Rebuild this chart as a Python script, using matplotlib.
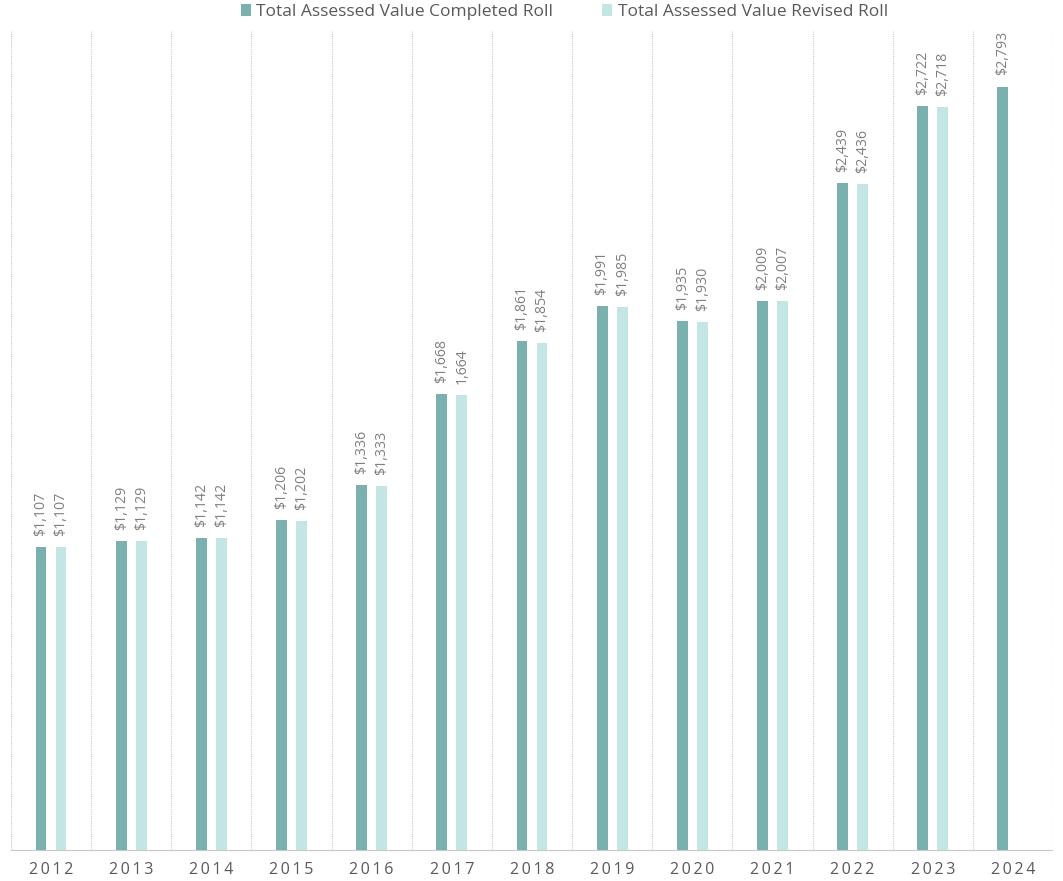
import numpy as np
import matplotlib.pyplot as plt

# values (millions)
years = ["2012", "2013", "2014", "2015", "2016", "2017", "2018",
         "2019", "2020", "2021", "2022", "2023", "2024"]
completed = [1107, 1129, 1142, 1206, 1336, 1668, 1861, 1991, 1935, 2009, 2439, 2722, 2793]
revised = [1107, 1129, 1142, 1202, 1333, 1664, 1854, 1985, 1930, 2007, 2436, 2718, None]
revised_labels = ["$1,107", "$1,129", "$1,142", "$1,202", "$1,333", "1,664", "$1,854",
                  "$1,985", "$1,930", "$2,007", "$2,436", "$2,718", None]

c_done = "#7AB1AE"
c_rev = "#C3E6E5"
grey = "#7F7F7F"

plt.rcParams["font.family"] = ["Open Sans", "DejaVu Sans"]

fig = plt.figure(figsize=(10.63, 8.81), dpi=100)
ax = fig.add_axes([0.0103, 0.0352, 0.9803, 0.9308])

x = np.arange(len(years))
off = 0.125
w = 0.135

ax.bar(x - off, completed, width=w, color=c_done, label="Total Assessed Value Completed Roll")
rx = [xi + off for xi, v in zip(x, revised) if v is not None]
rv = [v for v in revised if v is not None]
ax.bar(rx, rv, width=w, color=c_rev, label="Total Assessed Value Revised Roll")

for xi, v in zip(x, completed):
    ax.annotate(f"${v:,}", (xi - off, v), xytext=(0, 8), textcoords="offset points",
                rotation=90, ha="center", va="bottom", fontsize=10.2, color=grey)
for xi, v, lab in zip(x, revised, revised_labels):
    if v is None:
        continue
    ax.annotate(lab, (xi + off, v), xytext=(0, 8), textcoords="offset points",
                rotation=90, ha="center", va="bottom", fontsize=10.2, color=grey)

ax.set_xlim(-0.5, len(years) - 0.5)
ax.set_ylim(0, 3000)
ax.set_xticks(x)
# the reference spaces the year digits out a little
ax.set_xticklabels(["\u2009".join(y) for y in years], fontsize=11.5, color="#595959")
ax.tick_params(axis="x", length=0, pad=9)
ax.set_yticks([])

# category separators
for b in np.arange(-0.5, len(years), 1.0):
    ax.axvline(b, color="#C8C8C8", lw=0.8, ls=(0, (1, 1)), zorder=0)
for s in ["top", "right", "left"]:
    ax.spines[s].set_visible(False)
ax.spines["bottom"].set_color("#C8C8C8")
ax.spines["bottom"].set_linestyle((0, (1, 1)))

ax.legend(loc="center", bbox_to_anchor=(0.531, 1 + 18 / 820), ncol=2, frameon=False,
          fontsize=12.5, labelcolor="#595959", handlelength=0.6, handleheight=0.7,
          handletextpad=0.3, columnspacing=2.8, borderaxespad=0)

fig.savefig("out.png", dpi=100)
